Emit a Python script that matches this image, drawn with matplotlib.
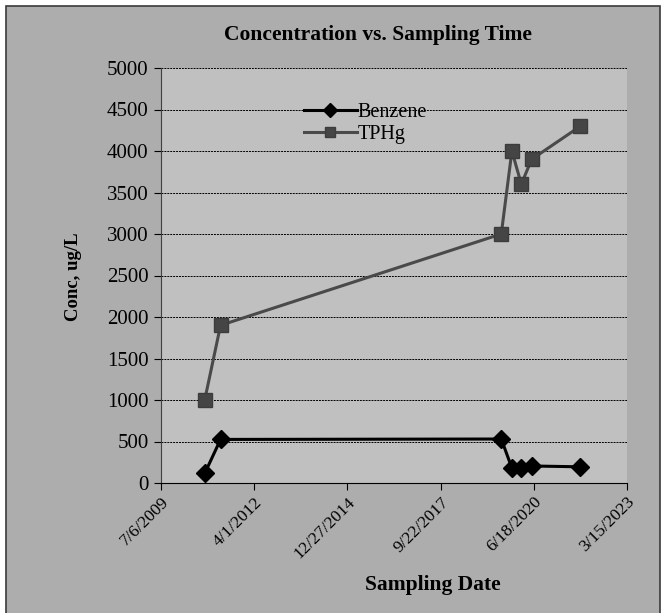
#!/usr/bin/env python3
"""Concentration vs. Sampling Time - benzene and TPHg at one well"""

import datetime as dt
import matplotlib
matplotlib.use('Agg')
import matplotlib.pyplot as plt
import matplotlib.dates as mdates
from matplotlib.patches import Rectangle

# sampling data
benzene_dates = ['2010-10-18', '2011-04-06', '2019-07-05', '2019-10-27',
                 '2020-02-05', '2020-05-26', '2021-11-01']
benzene_conc = [115, 525, 530, 180, 185, 205, 195]

tphg_dates = ['2010-10-18', '2011-04-06', '2019-07-05', '2019-10-27',
              '2020-02-05', '2020-05-26', '2021-11-01']
tphg_conc = [1000, 1900, 3000, 4000, 3600, 3900, 4300]

# x ticks every 1000 days starting 7/6/2009
tick_start = dt.date(2009, 7, 6)
n_ticks = 6
y_ticks = [0, 500, 1000, 1500, 2000, 2500, 3000, 3500, 4000, 4500, 5000]


def to_dates(strs):
    return [dt.datetime.strptime(s, '%Y-%m-%d') for s in strs]


plt.rcParams['font.family'] = ['Liberation Serif', 'DejaVu Serif']

fig = plt.figure(figsize=(6.63, 6.13), dpi=100)
fig.patch.set_facecolor('white')

# outer chart frame (behind the axes)
frame = Rectangle((6 / 663, -0.02), 654 / 663, 1.0 - 6 / 613 + 0.02,
                  transform=fig.transFigure, facecolor='#adadad',
                  edgecolor='#3a3a3a', linewidth=1.2, zorder=-10)
fig.patches.append(frame)

ax = fig.add_axes([161 / 663, 1 - 483 / 613, 466 / 663, 415 / 613])
ax.set_zorder(1)
ax.set_facecolor('#c0c0c0')

ax.plot(to_dates(benzene_dates), benzene_conc, color='black', linewidth=2.2,
        marker='D', markersize=9, markerfacecolor='black',
        markeredgecolor='black', label='Benzene', zorder=4, clip_on=False)
ax.plot(to_dates(tphg_dates), tphg_conc, color='#4a4a4a', linewidth=2.2,
        marker='s', markersize=10.5, markerfacecolor='#454545',
        markeredgecolor='#3c3c3c', label='TPHg', zorder=3, clip_on=False)

ticks = [tick_start + dt.timedelta(days=1000 * i) for i in range(n_ticks)]
ax.set_xlim(mdates.date2num(ticks[0]), mdates.date2num(ticks[-1]))
ax.set_xticks(mdates.date2num(ticks))
ax.set_xticklabels([f'{d.month}/{d.day}/{d.year}' for d in ticks],
                   rotation=45, ha='right', va='top', fontsize=12.5,
                   rotation_mode='anchor')

ax.set_ylim(0, 5000)
ax.set_yticks(y_ticks)
ax.tick_params(axis='y', labelsize=15, direction='out', length=5, pad=4)
ax.tick_params(axis='x', direction='out', length=5, pad=3)

ax.grid(True, axis='y', color='black', linestyle=(0, (2, 1)), linewidth=0.7)
ax.set_axisbelow(True)

for side in ['top', 'right']:
    ax.spines[side].set_visible(False)
ax.spines['left'].set_color('#404040')
ax.spines['bottom'].set_color('black')

ax.legend(loc='upper left', bbox_to_anchor=(0.29, 0.935), frameon=False,
          fontsize=14.5, handlelength=2.6, handletextpad=0.05,
          labelspacing=0.15, markerscale=0.75, borderaxespad=0)

fig.text(378 / 663, 1 - 35 / 613, 'Concentration vs. Sampling Time',
         ha='center', va='center', fontsize=15.5, fontweight='bold')
fig.text(433 / 663, 1 - 585 / 613, 'Sampling Date',
         ha='center', va='center', fontsize=15.5, fontweight='bold')
fig.text(74 / 663, 1 - 277 / 613, 'Conc, ug/L', rotation=90,
         ha='center', va='center', fontsize=13.5, fontweight='bold')

fig.savefig('out.png', dpi=100)
plt.close(fig)
